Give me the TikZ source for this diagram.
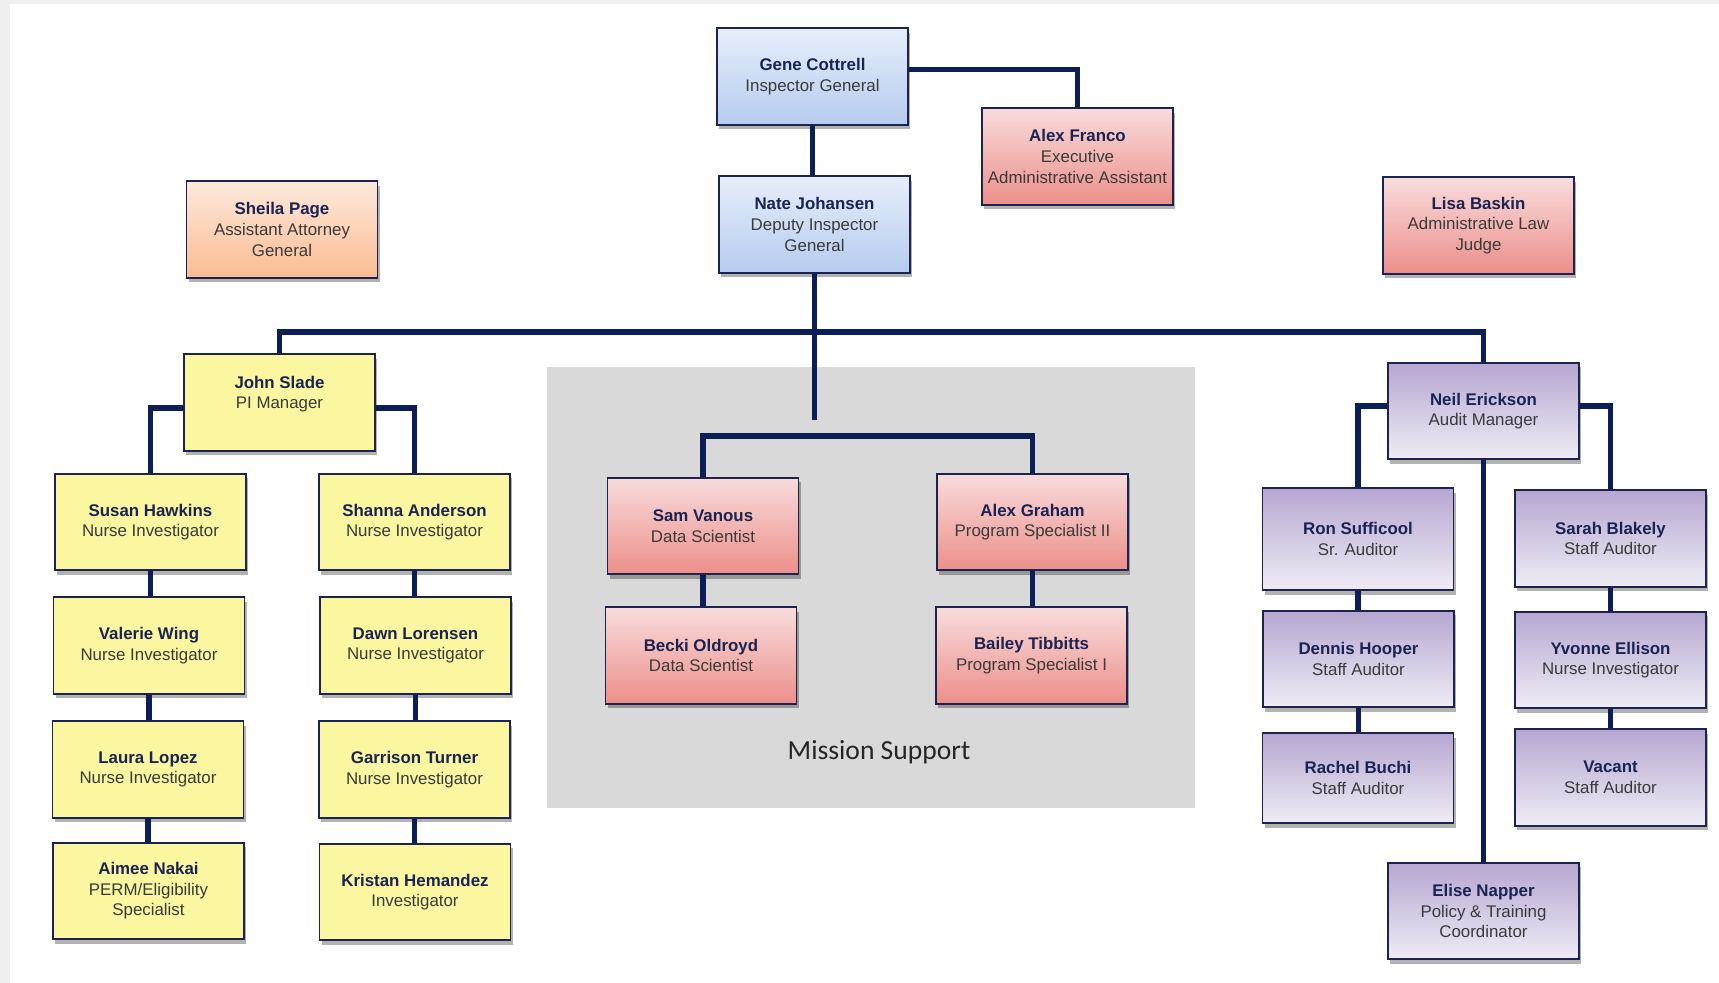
\documentclass[tikz,border=0pt]{standalone}
\usepackage{fontspec}
\setmainfont{Liberation Sans}
\newfontfamily\labelfont{Carlito}
\usepackage{tikz}
\usetikzlibrary{shadows}

\definecolor{pagegray}{HTML}{F0F0F0}
\definecolor{msgray}{HTML}{D9D9D9}
\definecolor{linkcol}{HTML}{0B1E55}
\definecolor{edgecol}{HTML}{1C2350}
\definecolor{namecol}{HTML}{1A2352}
\definecolor{titlecol}{HTML}{3A3A3A}
\definecolor{igtop}{HTML}{E6EEFA}
\definecolor{igbot}{HTML}{B6CCEF}
\definecolor{pinktop}{HTML}{F8DCDC}
\definecolor{pinkbot}{HTML}{EC8F8A}
\definecolor{peachtop}{HTML}{FDE9DC}
\definecolor{peachbot}{HTML}{FBBC92}
\definecolor{piyellow}{HTML}{FBF7A0}
\definecolor{audittop}{HTML}{B6A7D1}
\definecolor{auditbot}{HTML}{EFECF5}

\newcommand{\staff}[2]{{\bfseries\color{namecol}#1}\\#2}

\begin{document}
\begin{tikzpicture}[x=0.2mm, y=-0.2mm,
  person/.style={rectangle, draw=edgecol, line width=0.9pt,
    minimum width=38.2mm, minimum height=19.3mm, inner sep=1pt,
    align=center, text=titlecol, font=\fontsize{9.6}{11.7}\selectfont,
    drop shadow={shadow xshift=1.2pt, shadow yshift=-2.6pt, opacity=0.3, fill=black}},
  igbox/.style={person, top color=igtop, bottom color=igbot},
  pinkbox/.style={person, top color=pinktop, bottom color=pinkbot},
  peachbox/.style={person, top color=peachtop, bottom color=peachbot},
  yellowbox/.style={person, fill=piyellow},
  auditbox/.style={person, top color=audittop, bottom color=auditbot},
  link/.style={draw=linkcol, line width=3.3pt}]

% Page
\fill[pagegray] (0,0) rectangle (1719,983);
\fill[white] (10,4) rectangle (1719,983);
\useasboundingbox (0,0) rectangle (1719,983);

% Mission Support area
\fill[msgray] (547,367) rectangle (1195,808);
\node[font=\labelfont\fontsize{15.7}{18}\selectfont, text=black!85] (mslabel) at (879,752) {Mission Support};

% Front office
\node[igbox] (cottrell) at (812.5,76.5) {\staff{Gene Cottrell}{Inspector General}};
\node[pinkbox] (franco) at (1077.5,156.5) {\staff{Alex Franco}{Executive\\Administrative Assistant}};
\node[igbox] (johansen) at (814.5,224.5) {\staff{Nate Johansen}{Deputy Inspector\\General}};
\node[peachbox] (page) at (282,229.5) {\staff{Sheila Page}{Assistant Attorney\\General}};
\node[pinkbox] (baskin) at (1478.5,225.5) {\staff{Lisa Baskin}{Administrative Law\\Judge}};

% Program integrity
\node[yellowbox] (slade) at (279.5,402.5) {\staff{John Slade}{PI Manager\\\mbox{}}};
\node[yellowbox] (hawkins) at (150.5,522) {\staff{Susan Hawkins}{Nurse Investigator}};
\node[yellowbox] (wing) at (149,645.5) {\staff{Valerie Wing}{Nurse Investigator}};
\node[yellowbox] (lopez) at (148,769.5) {\staff{Laura Lopez}{Nurse Investigator}};
\node[yellowbox] (nakai) at (148.5,891) {\staff{Aimee Nakai}{PERM/Eligibility\\Specialist}};
\node[yellowbox] (anderson) at (414.5,522) {\staff{Shanna Anderson}{Nurse Investigator}};
\node[yellowbox] (lorensen) at (415.5,645.5) {\staff{Dawn Lorensen}{Nurse Investigator}};
\node[yellowbox] (turner) at (414.5,769.5) {\staff{Garrison Turner}{Nurse Investigator}};
\node[yellowbox] (hemandez) at (415,892) {\staff{Kristan Hemandez}{Investigator}};

% Mission support
\node[pinkbox] (vanous) at (703,526) {\staff{Sam Vanous}{Data Scientist}};
\node[pinkbox] (oldroyd) at (701,655.5) {\staff{Becki Oldroyd}{Data Scientist}};
\node[pinkbox] (graham) at (1032.5,522) {\staff{Alex Graham}{Program Specialist II}};
\node[pinkbox] (tibbitts) at (1031.5,655.5) {\staff{Bailey Tibbitts}{Program Specialist I}};

% Audit
\node[auditbox] (erickson) at (1483.5,411) {\staff{Neil Erickson}{Audit Manager}};
\node[auditbox, minimum height=20.4mm] (sufficool) at (1358,539) {\staff{Ron Sufficool}{Sr. Auditor}};
\node[auditbox] (hooper) at (1358.5,659) {\staff{Dennis Hooper}{Staff Auditor}};
\node[auditbox, minimum height=18mm] (buchi) at (1358,778) {\staff{Rachel Buchi}{Staff Auditor}};
\node[auditbox] (blakely) at (1610.5,538.5) {\staff{Sarah Blakely}{Staff Auditor}};
\node[auditbox] (ellison) at (1610.5,660) {\staff{Yvonne Ellison}{Nurse Investigator}};
\node[auditbox] (vacant) at (1610.5,777.5) {\staff{Vacant}{Staff Auditor}};
\node[auditbox] (napper) at (1483.5,911) {\staff{Elise Napper}{Policy \& Training\\Coordinator}};

% Reporting lines
\coordinate (bar) at (814.5,332);
\coordinate (msend) at (814.5,420);
\coordinate (msbar) at (867,436);
\draw[link] ([yshift=4pt]cottrell.east) -| (franco.north);
\draw[link] (cottrell.south) -- (cottrell.south |- johansen.north);
\draw[link] (johansen.south) -- (msend);
\draw[link] (slade.north) |- (bar) -| (erickson.north);

\draw[link] ([yshift=-3pt]slade.west) -| (hawkins.north);
\draw[link] ([yshift=-3pt]slade.east) -| (anderson.north);
\draw[link] (hawkins.south) -- (hawkins.south |- wing.north);
\draw[link] (wing.south) -- (wing.south |- lopez.north);
\draw[link] (lopez.south) -- (lopez.south |- nakai.north);
\draw[link] (anderson.south) -- (anderson.south |- lorensen.north);
\draw[link] (lorensen.south) -- (lorensen.south |- turner.north);
\draw[link] (turner.south) -- (turner.south |- hemandez.north);

\draw[link] (vanous.north) |- (msbar) -| (graham.north);
\draw[link] (vanous.south) -- (vanous.south |- oldroyd.north);
\draw[link] (graham.south) -- (graham.south |- tibbitts.north);

\draw[link] ([yshift=3pt]erickson.west) -| (sufficool.north);
\draw[link] ([yshift=3pt]erickson.east) -| (blakely.north);
\draw[link] (erickson.south) -- (napper.north);
\draw[link] (sufficool.south) -- (sufficool.south |- hooper.north);
\draw[link] (hooper.south) -- (hooper.south |- buchi.north);
\draw[link] (blakely.south) -- (blakely.south |- ellison.north);
\draw[link] (ellison.south) -- (ellison.south |- vacant.north);

\end{tikzpicture}
\end{document}
